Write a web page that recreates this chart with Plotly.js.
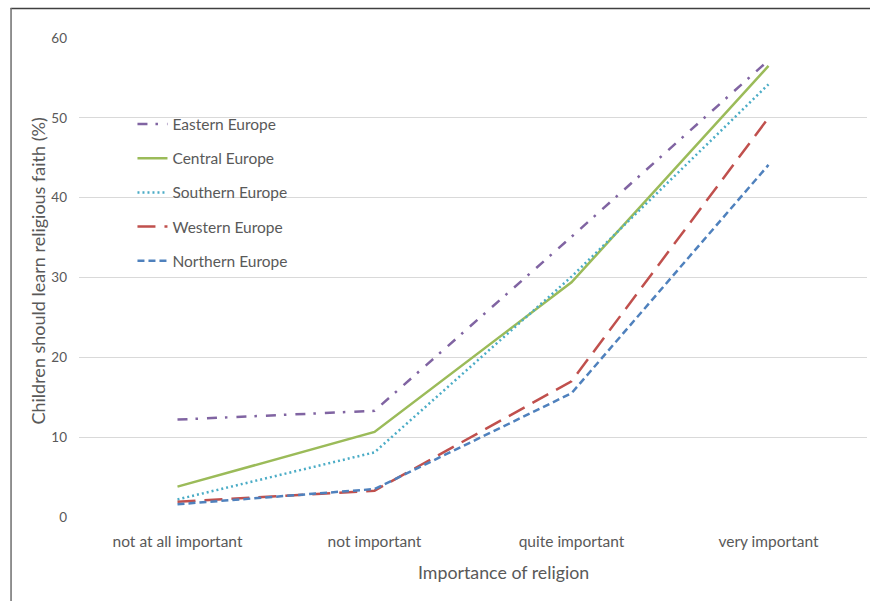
<!DOCTYPE html>
<html>
<head>
<meta charset="utf-8">
<script src="https://cdn.plot.ly/plotly-3.0.1.min.js"></script>
<style>
html,body{margin:0;padding:0;background:#fff;}
#chart{width:870px;height:601px;}
</style>
</head>
<body>
<div id="chart"></div>
<script>
const categories = ["not at all important", "not important", "quite important", "very important"];
const seriesNames = ["Eastern Europe", "Central Europe", "Southern Europe", "Western Europe", "Northern Europe"];
const eastern  = [12.2, 13.3, 35.1, 57.2];
const central  = [3.8, 10.65, 29.4, 56.5];
const southern = [2.2, 8.1, 30.1, 54.2];
const western  = [1.9, 3.3, 17.0, 50.0];
const northern = [1.6, 3.5, 15.5, 44.1];
const yTicks = [0, 10, 20, 30, 40, 50, 60];

const values = [eastern, central, southern, western, northern];
const colors = ["#8064A2", "#9BBB59", "#4BACC6", "#C0504D", "#4F81BD"];
const dashes = ["10px,8px,2.5px,9px", "solid", "2px,3px", "18px,9px", "7px,4px"];

const FONT = "Lato, 'Open Sans', sans-serif";
const traces = seriesNames.map((n, i) => ({
  type: "scatter", mode: "lines", name: n,
  x: categories, y: values[i],
  line: {color: colors[i], width: 2.5, dash: dashes[i]},
  legendgroup: "g" + i,
  hoverinfo: "skip"
}));

const L = 78.5, R = 867, T = 38, B = 517;
const W = R - L, H = B - T;
const px = v => (v - L) / W;
const py = v => (B - v) / H;

const layout = {
  width: 870, height: 601,
  margin: {l: L, r: 870 - R, t: T, b: 601 - B, pad: 0},
  paper_bgcolor: "#fff", plot_bgcolor: "#fff",
  font: {family: FONT, color: "#595959"},
  showlegend: true,
  legend: {
    x: px(132), y: py(107.5), xanchor: "left", yanchor: "top",
    font: {size: 15.5, color: "#595959", family: FONT},
    bgcolor: "rgba(0,0,0,0)", tracegroupgap: 11, itemwidth: 30
  },
  xaxis: {
    type: "category", range: [-0.5, 3.5], showgrid: false, zeroline: false,
    showline: false, ticks: "", tickfont: {size: 15.5, color: "#595959", family: FONT},
    ticklabelstandoff: 13, fixedrange: true
  },
  yaxis: {
    range: [0, 60], tickvals: yTicks, showgrid: true, gridcolor: "#d9d9d9", gridwidth: 1,
    zeroline: false, showline: false, ticks: "",
    tickfont: {size: 13.5, color: "#595959", family: FONT},
    ticklabelstandoff: 11, fixedrange: true
  },
  annotations: [
    {text: "Importance of religion", xref: "paper", yref: "paper", x: px(503), y: py(572),
     showarrow: false, xanchor: "center", yanchor: "middle",
     font: {size: 17.8, color: "#595959", family: FONT}},
    {text: "Children should learn religious faith (%)", xref: "paper", yref: "paper",
     x: px(37), y: py(271), textangle: -90, showarrow: false, xanchor: "center", yanchor: "middle",
     font: {size: 18, color: "#595959", family: FONT}}
  ],
  shapes: [
    {type: "line", xref: "paper", yref: "paper", x0: px(10), x1: px(872), y0: py(8.5), y1: py(8.5),
     line: {color: "#404040", width: 1.5}},
    {type: "line", xref: "paper", yref: "paper", x0: px(10.5), x1: px(10.5), y0: py(8), y1: py(605),
     line: {color: "#6e6e6e", width: 1.5}}
  ]
};

Plotly.newPlot("chart", traces, layout, {staticPlot: true, displayModeBar: false});
</script>
</body>
</html>
